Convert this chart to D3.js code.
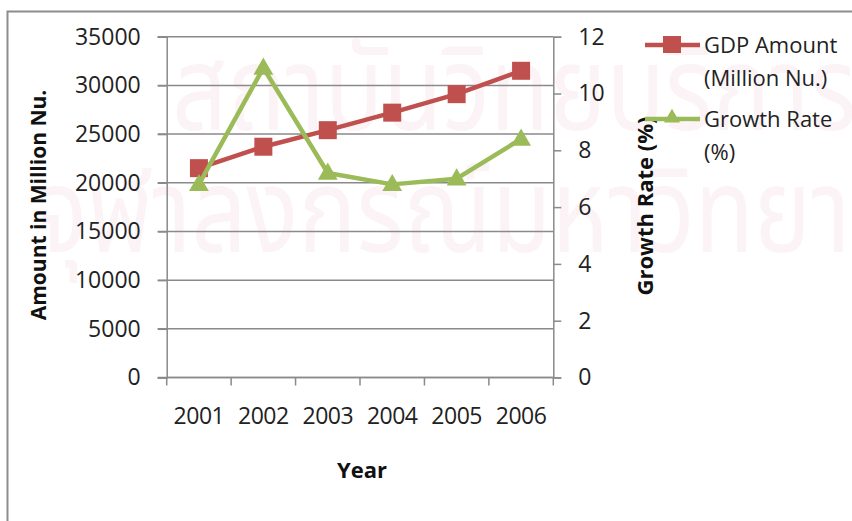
<!DOCTYPE html>
<html><head><meta charset="utf-8">
<script src="https://cdn.jsdelivr.net/npm/d3@7"></script>
<style>body{margin:0;background:#fff}svg{display:block}</style></head>
<body><svg id="c" width="852" height="521"></svg>
<script>
const years = ["2001","2002","2003","2004","2005","2006"];
const gdpAmount = [21500, 23700, 25400, 27200, 29100, 31500];
const growthRate = [6.8, 10.9, 7.2, 6.8, 7.0, 8.4];
const leftTicks = [0, 5000, 10000, 15000, 20000, 25000, 30000, 35000];
const rightTicks = [0, 2, 4, 6, 8, 10, 12];
const seriesNames = [["GDP Amount", "(Million Nu.)"], ["Growth Rate", "(%)"]];
const watermark = ["สถาบันวิทยบริการ", "จุฬาลงกรณ์มหาวิทยาลัย"];

const W = 852, H = 521;
const plot = {l: 166.7, r: 553.3, t: 36.7, b: 377.5};
const RED = "#C0504D", GREEN = "#9BBB59", GRID = "#8a8a8a";
const FONT = "'Open Sans', 'Noto Sans', sans-serif";

const svg = d3.select("#c");
svg.append("rect").attr("width", W).attr("height", H).attr("fill", "#fff");

// watermark
const wm = svg.append("g").attr("fill", "#fbf3f6").attr("font-family", "'Noto Sans Thai','Noto Sans','Loma','Garuda',sans-serif").attr("font-size", 118);
wm.append("text").attr("transform", "translate(172,130) scale(0.82,1)").text(watermark[0]);
wm.append("text").attr("transform", "translate(36,252) scale(0.82,1)").text(watermark[1]);

// chart border
svg.append("path").attr("d", `M7.5,${H} V11.5 H${W}`).attr("fill", "none").attr("stroke", "#8c8c8c").attr("stroke-width", 2);

const x = d3.scaleBand().domain(years).range([plot.l, plot.r]);
const yL = d3.scaleLinear().domain([0, 35000]).range([plot.b, plot.t]);
const yR = d3.scaleLinear().domain([0, 12]).range([plot.b, plot.t]);

// gridlines
svg.append("g").selectAll("line").data(leftTicks).join("line")
  .attr("x1", plot.l - 9).attr("x2", plot.r)
  .attr("y1", d => yL(d)).attr("y2", d => yL(d))
  .attr("stroke", GRID).attr("stroke-width", 1.5);

// left axis
const gL = svg.append("g").attr("transform", `translate(${plot.l},0)`)
  .call(d3.axisLeft(yL).tickValues(leftTicks).tickFormat(d3.format("d")).tickSize(9).tickPadding(17));
// right axis
const gR = svg.append("g").attr("transform", `translate(${plot.r},0)`)
  .call(d3.axisRight(yR).tickValues(rightTicks).tickSize(8).tickPadding(17));
// bottom axis
const gB = svg.append("g").attr("transform", `translate(0,${plot.b})`)
  .call(d3.axisBottom(x).tickSize(0).tickPadding(30));
// bottom ticks at band boundaries
const bounds = years.map(y => x(y)).concat([plot.r]);
gB.selectAll("line.bt").data(bounds).join("line").attr("class", "bt")
  .attr("x1", d => d).attr("x2", d => d).attr("y1", 0).attr("y2", 8)
  .attr("stroke", GRID).attr("stroke-width", 1.5);

[gL, gR, gB].forEach(g => {
  g.select(".domain").attr("stroke", GRID).attr("stroke-width", 1.5);
  g.selectAll(".tick line").attr("stroke", GRID).attr("stroke-width", 1.5);
  g.selectAll("text").attr("font-family", FONT).attr("font-size", 23).attr("fill", "#222");
});
gB.selectAll("text").attr("font-size", 23).attr("letter-spacing", -0.5);
gB.select(".domain").attr("d", `M${plot.l},0H${plot.r}`);

// axis titles
svg.append("text").attr("transform", `translate(46,205) rotate(-90)`).attr("text-anchor", "middle")
  .attr("font-family", FONT).attr("font-weight", "bold").attr("font-size", 21).attr("fill", "#111")
  .text("Amount in Million Nu.");
svg.append("text").attr("transform", `translate(653,206) rotate(-90)`).attr("text-anchor", "middle")
  .attr("font-family", FONT).attr("font-weight", "bold").attr("font-size", 22).attr("fill", "#111")
  .text("Growth Rate (%)");
svg.append("text").attr("x", 362).attr("y", 478).attr("text-anchor", "middle")
  .attr("font-family", FONT).attr("font-weight", "bold").attr("font-size", 22).attr("fill", "#111")
  .text("Year");

const cx = d => x(d) + x.bandwidth() / 2;
const tri = d3.symbol().type(d3.symbolTriangle).size(170);
const triLeg = d3.symbol().type(d3.symbolTriangle).size(110);

// GDP series
svg.append("path").datum(years.map((d, i) => [cx(d), yL(gdpAmount[i])]))
  .attr("d", d3.line()).attr("fill", "none").attr("stroke", RED).attr("stroke-width", 4.5).attr("stroke-linejoin", "round");
svg.append("g").selectAll("rect").data(years).join("rect")
  .attr("x", (d) => cx(d) - 9).attr("y", (d, i) => yL(gdpAmount[i]) - 9)
  .attr("width", 18).attr("height", 18).attr("fill", RED);

// Growth series
svg.append("path").datum(years.map((d, i) => [cx(d), yR(growthRate[i])]))
  .attr("d", d3.line()).attr("fill", "none").attr("stroke", GREEN).attr("stroke-width", 4.5).attr("stroke-linejoin", "round");
svg.append("g").selectAll("path").data(years).join("path")
  .attr("d", tri).attr("transform", (d, i) => `translate(${cx(d)},${yR(growthRate[i]) + 1})`).attr("fill", GREEN);

// legend
const leg = svg.append("g").attr("font-family", FONT).attr("font-size", 22).attr("fill", "#222");
const legY = [45, 119];
[RED, GREEN].forEach((c, i) => {
  leg.append("line").attr("x1", 645).attr("x2", 700).attr("y1", legY[i]).attr("y2", legY[i])
    .attr("stroke", c).attr("stroke-width", 4.5);
  if (i === 0) leg.append("rect").attr("x", 663).attr("y", legY[i] - 9).attr("width", 18).attr("height", 17).attr("fill", c);
  else leg.append("path").attr("d", triLeg).attr("transform", `translate(672,${legY[i] - 1})`).attr("fill", c);
  leg.append("text").attr("x", 704).attr("y", legY[i] + 8).text(seriesNames[i][0]);
  leg.append("text").attr("x", 704).attr("y", legY[i] + 41).text(seriesNames[i][1]);
});
</script></body></html>
